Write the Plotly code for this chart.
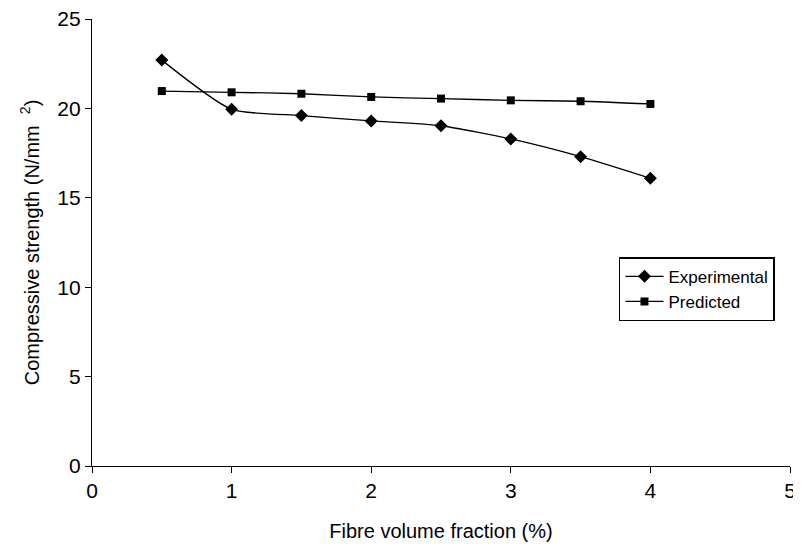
import plotly.graph_objects as go

fibre = [0.5, 1, 1.5, 2, 2.5, 3, 3.5, 4]
experimental = [22.7, 19.95, 19.6, 19.3, 19.03, 18.29, 17.3, 16.09]
predicted = [20.97, 20.9, 20.82, 20.64, 20.55, 20.45, 20.4, 20.25]

x_ticks = [0, 1, 2, 3, 4, 5]
y_ticks = [0, 5, 10, 15, 20, 25]

fig = go.Figure()
fig.add_trace(go.Scatter(x=fibre, y=experimental, name="Experimental", mode="lines+markers",
                         line=dict(color="black", width=1.3, shape="spline", smoothing=0.6),
                         marker=dict(symbol="diamond", size=10, color="black")))
fig.add_trace(go.Scatter(x=fibre, y=predicted, name="Predicted", mode="lines+markers",
                         line=dict(color="black", width=1.3, shape="spline", smoothing=0.6),
                         marker=dict(symbol="square", size=8, color="black")))

font = "Liberation Sans"
fig.update_layout(
    width=793, height=550,
    margin=dict(l=84, r=11, t=11, b=92),
    paper_bgcolor="white", plot_bgcolor="white",
    font=dict(family=font, size=20, color="black"),
    showlegend=True,
    legend=dict(x=0.755, y=0.467, xanchor="left", yanchor="top",
                bordercolor="black", borderwidth=1.5, bgcolor="white",
                font=dict(size=17, family=font), tracegroupgap=0, itemwidth=38),
    xaxis=dict(range=[0, 5], tickvals=x_ticks, ticks="outside", ticklen=6, tickcolor="black",
               showline=True, linecolor="black", linewidth=1.3, showgrid=False, zeroline=False,
               title=dict(text="Fibre volume fraction (%)", font=dict(size=20), standoff=22),
               tickfont=dict(size=21), ticklabeloverflow="allow", automargin=False),
    yaxis=dict(range=[0, 25], tickvals=y_ticks, ticks="outside", ticklen=6, tickcolor="black",
               showline=True, linecolor="black", linewidth=1.3, showgrid=False, zeroline=False,
               title=dict(text="Compressive strength (N/mm&nbsp;&nbsp;<sup>2</sup>)", font=dict(size=20), standoff=12),
               tickfont=dict(size=21), ticklabeloverflow="allow", automargin=False),
)
fig.write_html("out.html")
